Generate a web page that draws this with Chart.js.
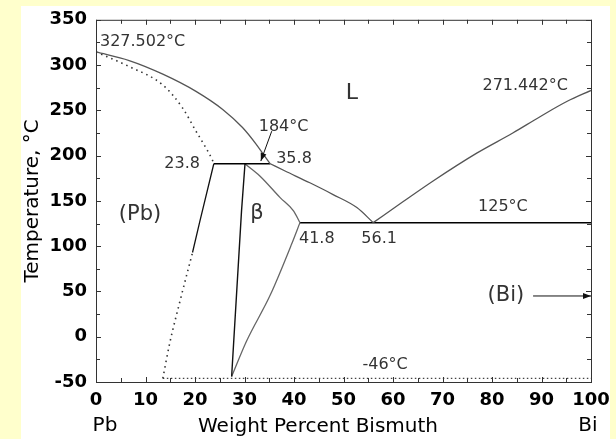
<!DOCTYPE html>
<html>
<head>
<meta charset="utf-8">
<script src="https://cdn.jsdelivr.net/npm/chart.js@4/dist/chart.umd.min.js"></script>
<style>
  body { margin: 0; background: #ffffcc; }
  canvas { display: block; }
</style>
</head>
<body>
<canvas id="phase_chart" width="616" height="439"></canvas>
<script>
// x = weight percent Bi, y = temperature in °C
let liqPbX = [0, 6.7, 13.5, 20.2, 25.6, 29.6, 32.3, 34, 35.2];
let liqPbT = [314.5, 305, 290, 271, 251, 231, 213, 200, 191];
let liqMidX = [35.2, 38.2, 43.2, 47.9, 52.7, 56];
let liqMidT = [191, 183, 170, 157, 142.6, 126];
let liqBiX = [56, 62, 68.1, 77, 84.2, 89.7, 95.2, 100];
let liqBiT = [126, 149, 172, 203, 225, 243, 260, 272];

let solPbX = [0, 6.7, 13.5, 17.5, 20.2, 22.2, 23.6, 23.8];
let solPbT = [314.5, 298.4, 278, 252.5, 227, 208.6, 194, 191];
let solvPbX = [19.5, 21, 23.8];
let solvPbT = [93, 128, 191];
let solvPbLowX = [13.5, 14.9, 17, 19.5];
let solvPbLowT = [-46, -7, 40, 93];

let peritX = [23.8, 35.2];
let peritT = [191, 191];
let betaLeftX = [27.4, 29.4, 30.1];
let betaLeftT = [-44, 139, 191];
let betaTopX = [30.1, 33.1, 37.2, 39.9, 41.2];
let betaTopT = [191, 177.5, 153.6, 139, 126];
let betaLowX = [27.4, 30.4, 35.2, 39.5, 41.2];
let betaLowT = [-44, -5, 46, 102, 126];
let eutX = [41.2, 100];
let eutT = [126, 126];
let lowX = [13.5, 100];
let lowT = [-46, -46];

let xTicks = [0, 10, 20, 30, 40, 50, 60, 70, 80, 90, 100];
let yTicks = [-50, 0, 50, 100, 150, 200, 250, 300, 350];

let notes = [
    {text: '327.502°C', x: 0.8, y: 326, size: 16, align: 'left'},
    {text: '184°C', x: 37.9, y: 232, size: 16},
    {text: '23.8', x: 17.4, y: 191, size: 16},
    {text: '35.8', x: 40, y: 196, size: 16},
    {text: 'L', x: 51.7, y: 269, size: 22},
    {text: '271.442°C', x: 86.7, y: 277.5, size: 16},
    {text: '125°C', x: 82.2, y: 143, size: 16},
    {text: '(Pb)', x: 8.9, y: 135, size: 21},
    {text: 'β', x: 32.5, y: 136, size: 21},
    {text: '41.8', x: 44.6, y: 108, size: 16},
    {text: '56.1', x: 57.2, y: 108, size: 16},
    {text: '(Bi)', x: 82.8, y: 45.6, size: 21},
    {text: '-46°C', x: 58.4, y: -31, size: 16}
];
let arrows = [
    {x1: 88.3, y1: 45, x2: 100, y2: 45},
    {x1: 35.5, y1: 227, x2: 33.3, y2: 194}
];

function pts(xs, ys) {
    return xs.map(function(v, i) {return {x: v, y: ys[i]};});
}
function line(xs, ys, color, width, dash, curved) {
    return {
        data: pts(xs, ys),
        showLine: true,
        borderColor: color,
        borderWidth: width,
        borderDash: dash || [],
        pointRadius: 0,
        cubicInterpolationMode: curved ? 'monotone' : 'default',
        tension: curved ? 0.4 : 0,
        fill: false
    };
}

let decor = {
    id: 'decor',
    beforeDraw: function(chart) {
        let ctx = chart.ctx;
        ctx.save();
        ctx.fillStyle = '#ffffcc';
        ctx.fillRect(0, 0, chart.width, chart.height);
        ctx.fillStyle = '#ffffff';
        ctx.fillRect(21, 6, 589, 433);
        ctx.restore();
    },
    afterDraw: function(chart) {
        let ctx = chart.ctx;
        let a = chart.chartArea;
        let sx = chart.scales.x, sy = chart.scales.y;
        ctx.save();
        ctx.strokeStyle = '#333';
        ctx.lineWidth = 1;
        ctx.strokeRect(a.left + 0.5, a.top + 0.5, a.right - a.left, a.bottom - a.top);
        // inside tick marks
        ctx.beginPath();
        for (let v = 0; v <= 100; v += 5) {
            let px = Math.round(sx.getPixelForValue(v)) + 0.5;
            let len = v % 10 === 0 ? 5 : 4;
            ctx.moveTo(px, a.bottom); ctx.lineTo(px, a.bottom - len);
            ctx.moveTo(px, a.top); ctx.lineTo(px, a.top + len);
        }
        for (let v = -50; v <= 350; v += 25) {
            let py = Math.round(sy.getPixelForValue(v)) + 0.5;
            let len = v % 50 === 0 ? 5 : 4;
            ctx.moveTo(a.left, py); ctx.lineTo(a.left + len, py);
            ctx.moveTo(a.right, py); ctx.lineTo(a.right - len, py);
        }
        ctx.stroke();

        // arrows
        ctx.strokeStyle = '#111';
        ctx.fillStyle = '#111';
        arrows.forEach(function(ar) {
            let x1 = sx.getPixelForValue(ar.x1), y1 = sy.getPixelForValue(ar.y1);
            let x2 = sx.getPixelForValue(ar.x2), y2 = sy.getPixelForValue(ar.y2);
            let ang = Math.atan2(y2 - y1, x2 - x1);
            ctx.beginPath();
            ctx.moveTo(x1, y1); ctx.lineTo(x2, y2);
            ctx.stroke();
            ctx.beginPath();
            ctx.moveTo(x2, y2);
            ctx.lineTo(x2 - 8 * Math.cos(ang) + 3 * Math.sin(ang), y2 - 8 * Math.sin(ang) - 3 * Math.cos(ang));
            ctx.lineTo(x2 - 8 * Math.cos(ang) - 3 * Math.sin(ang), y2 - 8 * Math.sin(ang) + 3 * Math.cos(ang));
            ctx.closePath();
            ctx.fill();
        });

        // labels inside the plot
        ctx.fillStyle = '#333';
        ctx.textBaseline = 'middle';
        notes.forEach(function(n) {
            ctx.font = n.size + 'px "DejaVu Sans"';
            ctx.textAlign = n.align || 'center';
            ctx.fillText(n.text, sx.getPixelForValue(n.x), sy.getPixelForValue(n.y));
        });

        // x axis title and the two end members
        ctx.fillStyle = '#000';
        ctx.font = '20px "DejaVu Sans"';
        ctx.textAlign = 'center';
        ctx.fillText('Weight Percent Bismuth', 318, 427);
        ctx.fillText('Pb', sx.getPixelForValue(0) + 9, 426);
        ctx.fillText('Bi', sx.getPixelForValue(100) - 3, 426);
        ctx.restore();
    }
};

let phaseChart = new Chart(document.getElementById('phase_chart'), {
    type: 'scatter',
    data: {
        datasets: [
            line(liqPbX, liqPbT, '#555', 1.3, null, true),
            line(liqMidX, liqMidT, '#555', 1.3, null, true),
            line(liqBiX, liqBiT, '#555', 1.3, null, true),
            line(solPbX, solPbT, '#333', 1.6, [1.5, 4], true),
            line(solvPbX, solvPbT, '#111', 1.3),
            line(solvPbLowX, solvPbLowT, '#333', 1.6, [1.5, 4], true),
            line(peritX, peritT, '#000', 1.5),
            line(betaLeftX, betaLeftT, '#111', 1.4),
            line(betaTopX, betaTopT, '#666', 1.3, null, true),
            line(betaLowX, betaLowT, '#666', 1.3, null, true),
            line(eutX, eutT, '#000', 1.5),
            line(lowX, lowT, '#444', 1.3, [1.5, 2.5])
        ]
    },
    options: {
        responsive: false,
        animation: false,
        devicePixelRatio: 1,
        layout: {padding: {top: 18, right: 25, left: 0, bottom: 0}},
        plugins: {legend: {display: false}, tooltip: {enabled: false}},
        scales: {
            x: {
                type: 'linear', min: 0, max: 100,
                afterBuildTicks: function(s) {s.ticks = xTicks.map(function(v) {return {value: v};});},
                afterFit: function(s) {s.height = 57;},
                grid: {display: false, drawTicks: false},
                border: {display: false},
                ticks: {
                    padding: 5,
                    color: '#000',
                    maxRotation: 0,
                    autoSkip: false,
                    font: {family: 'DejaVu Sans', size: 18, weight: 'bold', lineHeight: 1.45}
                }
            },
            y: {
                type: 'linear', min: -50, max: 350,
                afterBuildTicks: function(s) {s.ticks = yTicks.map(function(v) {return {value: v};});},
                afterFit: function(s) {s.width = 96;},
                grid: {display: false, drawTicks: false},
                border: {display: false},
                title: {
                    display: true,
                    text: 'Temperature, °C',
                    color: '#000',
                    font: {family: 'DejaVu Sans', size: 20, lineHeight: 1.2},
                    padding: {top: 21, bottom: 0}
                },
                ticks: {
                    padding: 9,
                    color: '#000',
                    font: {family: 'DejaVu Sans', size: 18, weight: 'bold'}
                }
            }
        }
    },
    plugins: [decor]
});
</script>
</body>
</html>
